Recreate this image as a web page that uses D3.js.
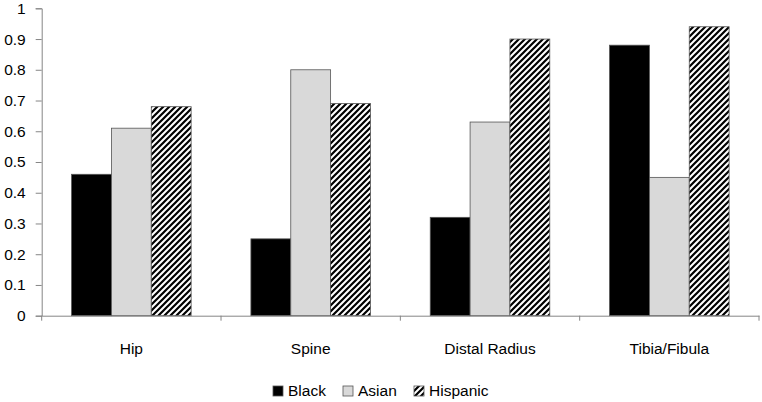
<!DOCTYPE html>
<html>
<head>
<meta charset="utf-8">
<script src="https://cdn.jsdelivr.net/npm/d3@7"></script>
<style>
  body { margin: 0; background: #fff; }
  svg { font-family: "Liberation Sans", Arial, sans-serif; }
</style>
</head>
<body>
<div id="chart"></div>
<script>
// Chart size
const width = 762;
const height = 402;
const margin = { top: 8.3, right: 3, bottom: 86.3, left: 41.7 };

// Data
const categories = ["Hip", "Spine", "Distal Radius", "Tibia/Fibula"];
const seriesNames = ["Black", "Asian", "Hispanic"];
const blackValues = [0.46, 0.25, 0.32, 0.88];
const asianValues = [0.61, 0.80, 0.63, 0.45];
const hispanicValues = [0.68, 0.69, 0.90, 0.94];
const yTicks = [0, 0.1, 0.2, 0.3, 0.4, 0.5, 0.6, 0.7, 0.8, 0.9, 1];
const yTickLabels = ["0", "0.1", "0.2", "0.3", "0.4", "0.5", "0.6", "0.7", "0.8", "0.9", "1"];

const seriesValues = [blackValues, asianValues, hispanicValues];
const fills = ["#000000", "#d9d9d9", "url(#hatch)"];

const rows = [];
categories.forEach((c, i) => {
  seriesNames.forEach((s, j) => {
    rows.push({ category: c, series: s, value: seriesValues[j][i] });
  });
});

const svg = d3.select("#chart")
  .append("svg")
  .attr("width", width)
  .attr("height", height);

// Motif hachuré pour Hispanic
const pattern = svg.append("defs")
  .append("pattern")
  .attr("id", "hatch")
  .attr("patternUnits", "userSpaceOnUse")
  .attr("width", 6)
  .attr("height", 6);
pattern.append("rect").attr("width", 6).attr("height", 6).attr("fill", "#fff");
pattern.append("path")
  .attr("d", "M-1,1 l2,-2 M0,6 l6,-6 M5,7 l2,-2")
  .attr("stroke", "#000")
  .attr("stroke-width", 2.2);

// Scales
const x = d3.scaleBand()
  .domain(categories)
  .range([margin.left, width - margin.right]);

const xInner = d3.scaleBand()
  .domain(seriesNames)
  .range([0, x.bandwidth()])
  .paddingInner(0)
  .paddingOuter(0.75);

const y = d3.scaleLinear()
  .domain([0, 1])
  .range([height - margin.bottom, margin.top]);

const color = d3.scaleOrdinal().domain(seriesNames).range(fills);

// Bars
svg.append("g")
  .selectAll("rect")
  .data(rows)
  .join("rect")
  .attr("x", d => x(d.category) + xInner(d.series))
  .attr("y", d => y(d.value))
  .attr("width", xInner.bandwidth())
  .attr("height", d => y(0) - y(d.value))
  .attr("fill", d => color(d.series))
  .attr("stroke", "#555")
  .attr("stroke-width", 0.8);

// Y axis
svg.append("g")
  .attr("transform", `translate(${margin.left},0)`)
  .call(d3.axisLeft(y)
    .tickValues(yTicks)
    .tickFormat((d, i) => yTickLabels[i])
    .tickSize(6)
    .tickSizeOuter(6)
    .tickPadding(10))
  .call(g => g.selectAll("line, path").attr("stroke", "#868686"))
  .call(g => g.selectAll("text")
    .attr("fill", "#000")
    .style("font-size", "15.5px")
    .style("font-family", "'Liberation Sans', Arial, sans-serif"));

// X axis
const xAxis = svg.append("g")
  .attr("transform", `translate(0,${y(0)})`)
  .call(d3.axisBottom(x)
    .tickSize(0)
    .tickSizeOuter(0)
    .tickPadding(27))
  .call(g => g.select(".domain").attr("stroke", "#868686"))
  .call(g => g.selectAll("text")
    .attr("fill", "#000")
    .style("font-size", "15.5px")
    .style("font-family", "'Liberation Sans', Arial, sans-serif"));

// Ticks between categories
const boundaries = categories.map(c => x(c)).concat([x.range()[1]]);
xAxis.append("g")
  .selectAll("line")
  .data(boundaries)
  .join("line")
  .attr("x1", d => d)
  .attr("x2", d => d)
  .attr("y1", 0)
  .attr("y2", 5)
  .attr("stroke", "#868686");

// Legend
const legendItems = [
  { name: "Black", x: 273 },
  { name: "Asian", x: 343 },
  { name: "Hispanic", x: 414 }
];
const legend = svg.append("g")
  .attr("transform", "translate(0,391)");
const li = legend.selectAll("g")
  .data(legendItems)
  .join("g")
  .attr("transform", d => `translate(${d.x},0)`);
li.append("rect")
  .attr("x", 0)
  .attr("y", -5)
  .attr("width", 10)
  .attr("height", 10)
  .attr("fill", d => color(d.name))
  .attr("stroke", "#555")
  .attr("stroke-width", 0.8);
li.append("text")
  .attr("x", 15)
  .attr("dy", "0.35em")
  .style("font-size", "15.5px")
  .text(d => d.name);
</script>
</body>
</html>
